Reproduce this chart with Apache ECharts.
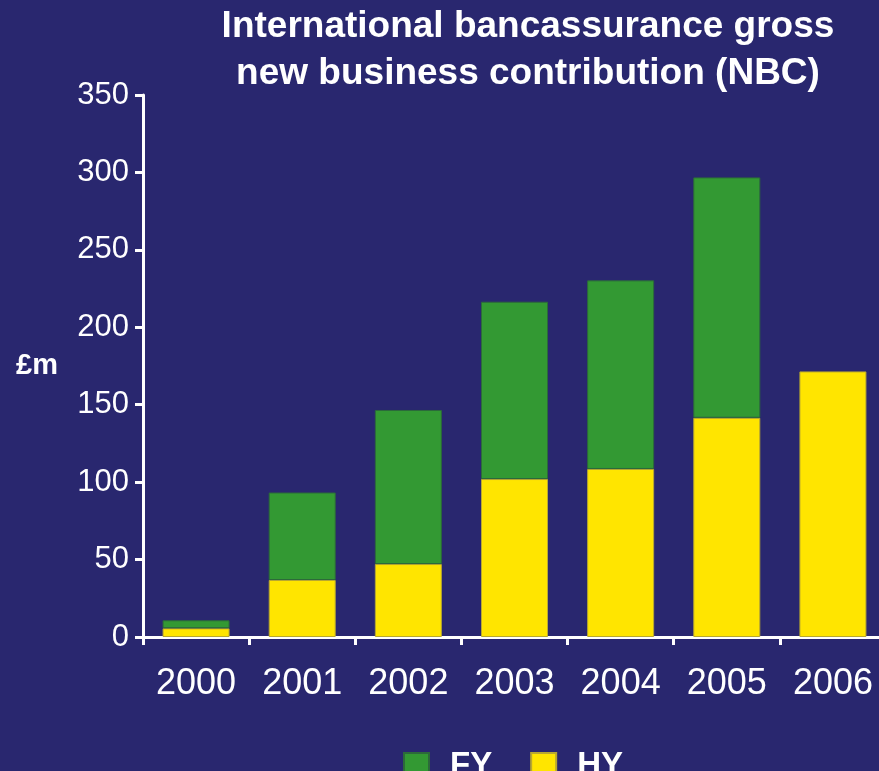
<!DOCTYPE html>
<html>
<head>
<meta charset="utf-8">
<script src="https://cdn.jsdelivr.net/npm/echarts@6/dist/echarts.min.js"></script>
<style>
  html, body { margin: 0; padding: 0; background: #29276f; }
  #main { width: 879px; height: 771px; }
</style>
</head>
<body>
<div id="main"></div>
<script>
var years = ['2000', '2001', '2002', '2003', '2004', '2005', '2006'];
// first half (yellow, bottom of stack)
var hyValues = [5.6, 36.8, 47.1, 102, 108.5, 141.6, 171.5];
// second half contribution (green, on top) -> FY total = HY + this
var fyTopValues = [5.2, 56.5, 99.5, 114.5, 121.8, 155.2, null];

var chart = echarts.init(document.getElementById('main'));

var option = {
    backgroundColor: '#29276f',
    textStyle: { fontFamily: 'Liberation Sans, Arial, sans-serif' },
    title: {
        text: 'International bancassurance gross\nnew business contribution (NBC)',
        left: 523,
        top: -2,
        textAlign: 'center',
        textStyle: {
            color: '#ffffff',
            fontSize: 37,
            fontWeight: 'bold',
            lineHeight: 47,
            fontFamily: 'Liberation Sans, Arial, sans-serif'
        }
    },
    legend: {
        top: 744,
        left: 398,
        itemWidth: 25,
        itemHeight: 25,
        itemGap: 38,
        icon: 'rect',
        data: ['FY', 'HY'],
        textStyle: {
            color: '#ffffff',
            fontSize: 33,
            fontWeight: 'bold',
            padding: [0, 0, 0, 16]
        }
    },
    grid: {
        left: 143,
        right: -7,
        top: 95,
        bottom: 134,
        outerBoundsMode: 'none',
        containLabel: false
    },
    xAxis: {
        type: 'category',
        data: years,
        axisLine: { lineStyle: { color: '#ffffff', width: 3 } },
        axisTick: { show: true, interval: 0, length: 8, lineStyle: { color: '#ffffff', width: 3 } },
        axisLabel: { color: '#ffffff', fontSize: 36, margin: 29 }
    },
    yAxis: {
        type: 'value',
        min: 0,
        max: 350,
        interval: 50,
        name: '£m',
        nameLocation: 'middle',
        nameRotate: 0,
        nameGap: 85,
        nameTextStyle: { color: '#ffffff', fontSize: 29, fontWeight: 'bold' },
        splitLine: { show: false },
        axisLine: { show: true, lineStyle: { color: '#ffffff', width: 3 } },
        axisTick: { show: true, length: 8, lineStyle: { color: '#ffffff', width: 3 } },
        axisLabel: { color: '#ffffff', fontSize: 31, margin: 14 }
    },
    series: [{
        name: 'HY',
        type: 'bar',
        stack: 'nbc',
        barWidth: 67,
        data: hyValues,
        itemStyle: { color: '#ffe500', borderColor: '#b8a830', borderWidth: 1 }
    }, {
        name: 'FY',
        type: 'bar',
        stack: 'nbc',
        barWidth: 67,
        data: fyTopValues,
        itemStyle: { color: '#339933', borderColor: '#2c6a3a', borderWidth: 1 }
    }]
};

chart.setOption(option);
</script>
</body>
</html>
